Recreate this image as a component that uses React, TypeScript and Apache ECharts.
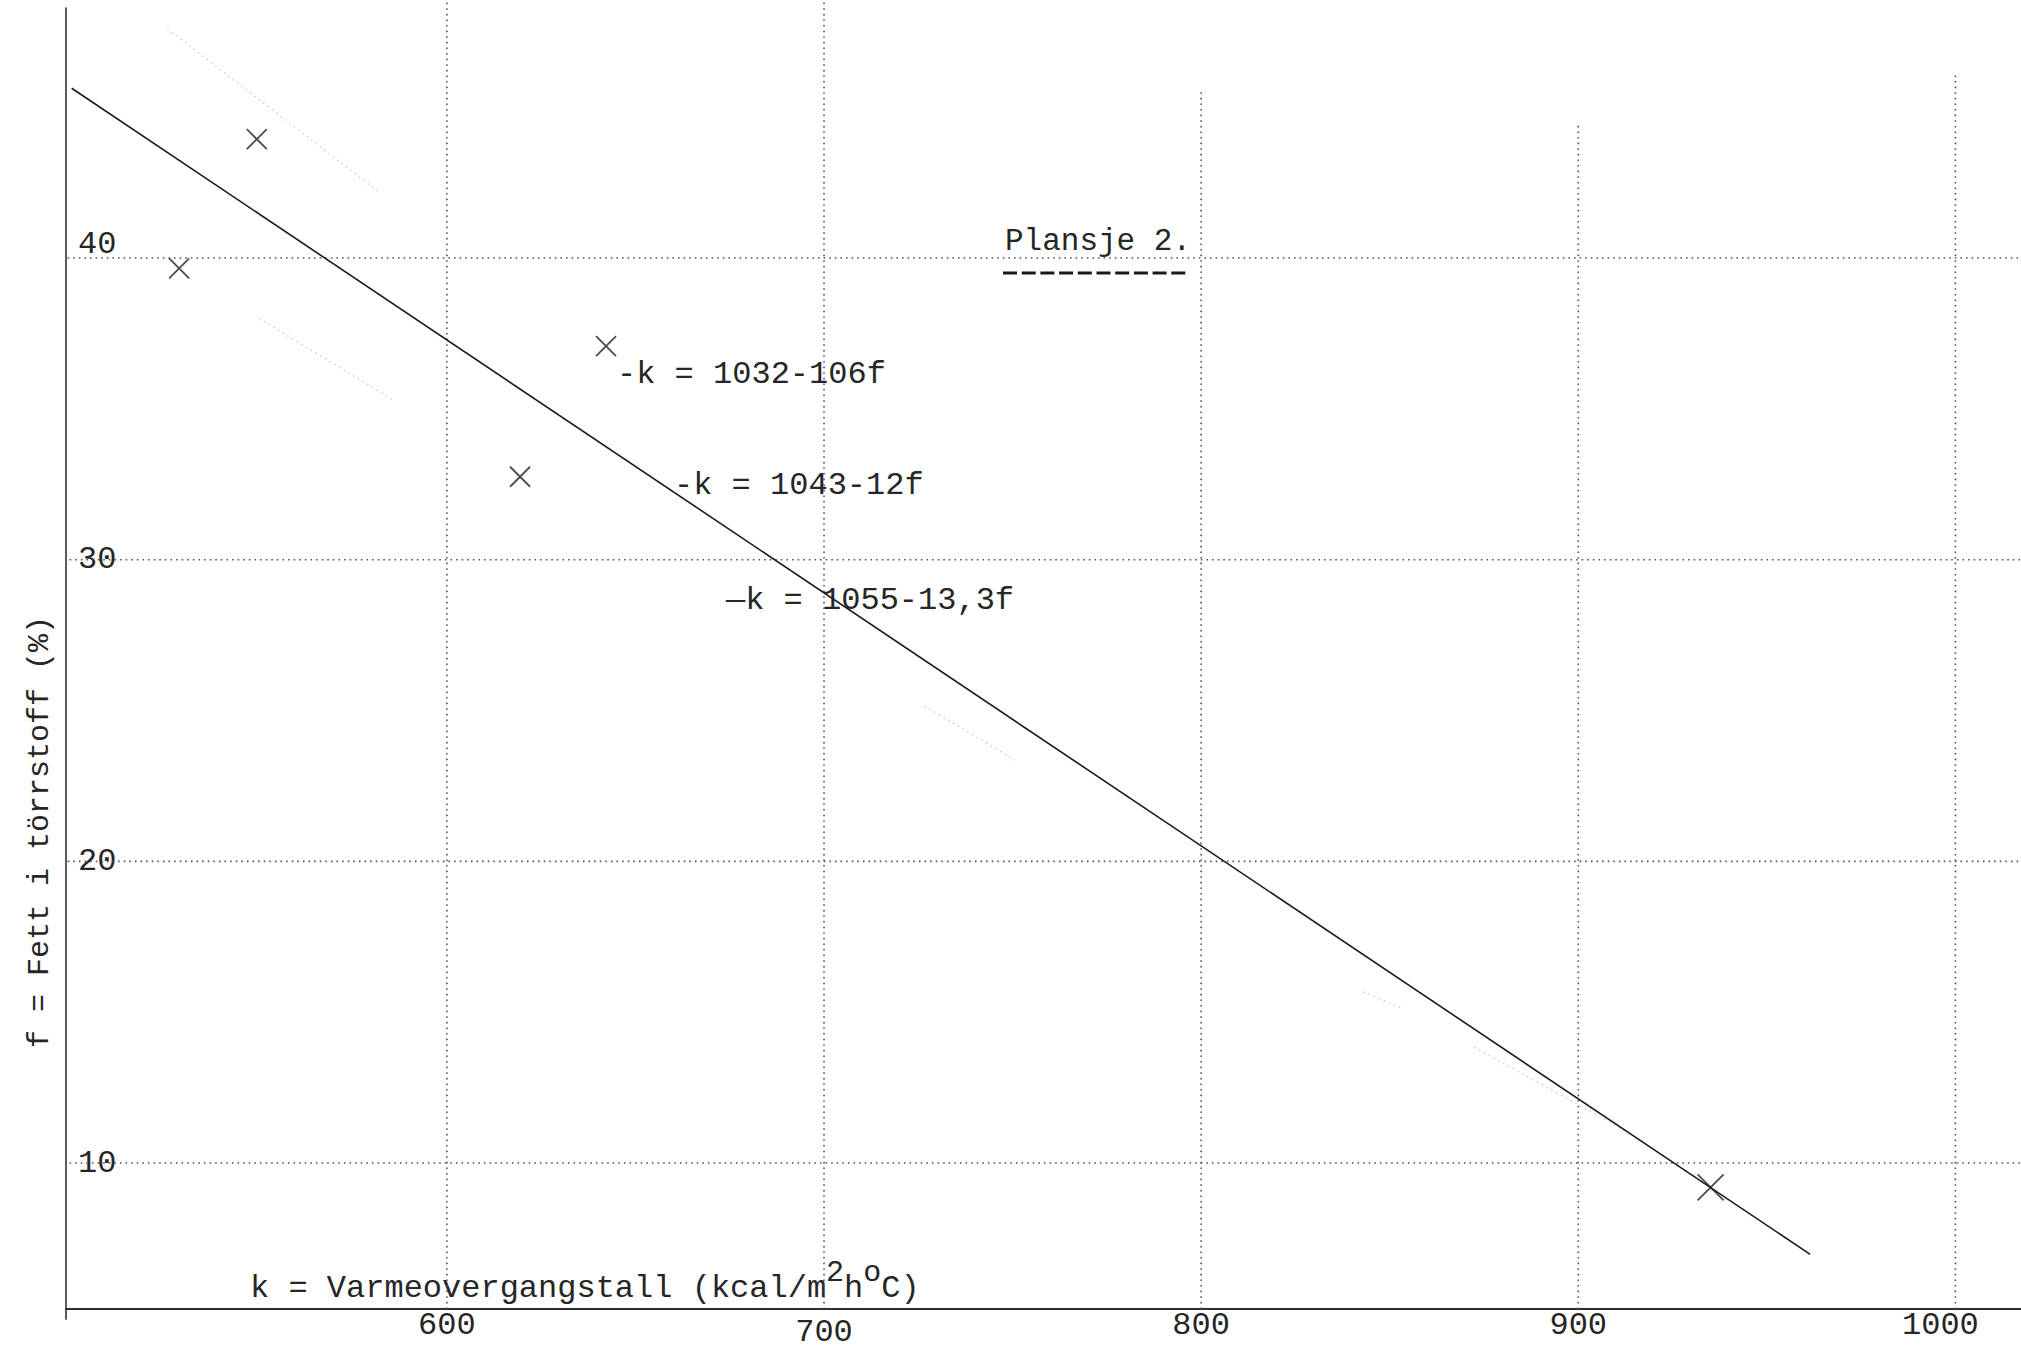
import React, { useEffect, useRef } from 'react';
import * as echarts from 'echarts';

// ---- axes ----
const X_MIN = 499;
const X_MAX = 1017.4;
const Y_MIN = 5.16;
const Y_MAX = 48.29;
const xTicks = [600, 700, 800, 900, 1000];
const yTicks = [10, 20, 30, 40];

// ---- measured points (k, f) ----
const kMeasured = [549.6, 529.0, 642.2, 619.4, 935.1];
const fMeasured = [43.94, 39.66, 37.08, 32.75, 9.19];

// ---- fitted line k = 1043 - 12 f (end points read from the sheet) ----
const fitK = [500.5, 961.5];
const fitF = [45.63, 6.97];

// ---- faint pencil traces of the other two lines ----
const faint1K = [525.9, 581.8];
const faint1F = [47.6, 42.2];
const faint2K = [550.2, 585.9];
const faint2F = [38.0, 35.28];
const faint3K = [726.7, 750.6];
const faint3F = [25.15, 23.36];
const faint4K = [843.0, 853.3];
const faint4F = [15.67, 15.13];
const faint5K = [872.4, 913.5];
const faint5F = [13.84, 11.0];

// ---- grid line extents as typed on the sheet ----
const vGridTop = [48.7, 48.7, 45.6, 44.5, 46.1];
const hGridStart = [494, 495, 497, 492];
const hGridEnd = 1025;

// ---- axis line overhangs ----
const xAxisOverhangK = [495.5, X_MIN];
const yAxisOverhangF = [Y_MIN, 4.8];

const FONT = '"Liberation Mono", "DejaVu Sans Mono", monospace';
const INK = '#262626';

const zip = (a: number[], b: number[]) => a.map((v, i) => [v, b[i]]);

export default function App() {
  const ref = useRef<HTMLDivElement>(null);

  useEffect(() => {
    if (!ref.current) return;
    const chart = echarts.init(ref.current, null, { renderer: 'svg' });

    const gridStyle = { color: '#555', width: 1.6, type: [1.6, 4] as any, cap: 'butt' as any };
    const faintStyle = { color: '#cdcdcd', width: 1.5, type: [1.5, 4] as any };
    const base = { type: 'line', silent: true, clip: false, symbol: 'none', animation: false };

    const series: any[] = [];
    xTicks.forEach((v, i) => {
      series.push({ ...base, data: [[v, Y_MIN], [v, vGridTop[i]]], lineStyle: gridStyle });
    });
    yTicks.forEach((v, i) => {
      series.push({ ...base, data: [[hGridStart[i], v], [hGridEnd, v]], lineStyle: gridStyle });
    });
    [
      zip(faint1K, faint1F), zip(faint2K, faint2F), zip(faint3K, faint3F),
      zip(faint4K, faint4F), zip(faint5K, faint5F),
    ].forEach((d) => {
      series.push({ ...base, data: d, lineStyle: faintStyle });
    });
    series.push({
      ...base,
      data: xAxisOverhangK.map((k) => [k, Y_MIN]),
      lineStyle: { color: '#2e2e2e', width: 2 },
    });
    series.push({
      ...base,
      data: yAxisOverhangF.map((f) => [X_MIN, f]),
      lineStyle: { color: '#333', width: 1.6 },
    });
    series.push({
      ...base,
      data: zip(fitK, fitF), lineStyle: { color: '#1a1a1a', width: 1.6 },
    });
    series.push({
      type: 'scatter', silent: true, clip: false, animation: false,
      symbol: 'path://M0 0L20 20M20 0L0 20',
      symbolSize: (_v: any, p: any) => (p.dataIndex === 4 ? 26 : 20),
      itemStyle: { color: 'rgba(0,0,0,0)', borderColor: '#1f1f1f', borderWidth: 1.8 },
      data: zip(kMeasured, fMeasured),
    });

    const labelBase = { fontFamily: FONT, fontSize: 32, color: INK };

    chart.setOption({
      animation: false,
      backgroundColor: '#ffffff',
      grid: { left: 66, right: 0, top: 8, bottom: 42, containLabel: false },
      xAxis: {
        type: 'value', min: X_MIN, max: X_MAX,
        axisLine: { show: true, onZero: false, lineStyle: { color: '#2e2e2e', width: 2 } },
        axisTick: { show: false },
        splitLine: { show: false },
        axisLabel: {
          ...labelBase,
          margin: 0,
          customValues: xTicks,
          formatter: (v: number) => (v === 700 ? '{lo|700}' : v === 1000 ? '{rt|1000}' : String(v)),
          rich: {
            lo: { ...labelBase, padding: [7, 0, 0, 0] },
            rt: { ...labelBase, padding: [0, 30, 0, 0] },
          },
        },
      },
      yAxis: {
        type: 'value', min: Y_MIN, max: Y_MAX,
        axisLine: { show: true, onZero: false, lineStyle: { color: '#333', width: 1.6 } },
        axisTick: { show: false },
        splitLine: { show: false },
        axisLabel: {
          ...labelBase,
          inside: true,
          margin: 12,
          customValues: yTicks,
          formatter: (v: number) => (v === 40 ? '{hi|40}' : String(v)),
          rich: { hi: { ...labelBase, padding: [0, 0, 28, 0] } },
        },
      },
      graphic: [
        {
          type: 'text', x: 40, y: 832, rotation: Math.PI / 2, silent: true,
          style: {
            text: 'f = Fett i törrstoff (%)', fontFamily: FONT, fontSize: 30, fill: INK,
            align: 'center', verticalAlign: 'middle',
          },
        },
        {
          type: 'text', x: 250, y: 1281, silent: true,
          style: {
            text: '{n|k = Varmeovergangstall (kcal/m}{s|2}{n|h}{s|o}{n|C)}',
            fontFamily: FONT, fontSize: 32, fill: INK, align: 'left', verticalAlign: 'middle',
            rich: {
              n: { fontFamily: FONT, fontSize: 32, fill: INK, lineHeight: 46, verticalAlign: 'bottom' },
              s: { fontFamily: FONT, fontSize: 30, fill: INK, lineHeight: 30, verticalAlign: 'top' },
            },
          },
        },
        {
          type: 'text', x: 1005, y: 241, silent: true,
          style: { text: 'Plansje 2.', fontFamily: FONT, fontSize: 31, fill: INK, align: 'left', verticalAlign: 'middle' },
        },
        {
          type: 'line', silent: true,
          shape: { x1: 1003, y1: 273, x2: 1190, y2: 273 },
          style: { stroke: '#1a1a1a', lineWidth: 3, lineDash: [14, 4.7] },
        },
        {
          type: 'text', x: 617, y: 374, silent: true,
          style: { text: '-k = 1032-106f', fontFamily: FONT, fontSize: 32, fill: INK, align: 'left', verticalAlign: 'middle' },
        },
        {
          type: 'text', x: 674, y: 485, silent: true,
          style: { text: '-k = 1043-12f', fontFamily: FONT, fontSize: 32, fill: INK, align: 'left', verticalAlign: 'middle' },
        },
        {
          type: 'text', x: 726, y: 600, silent: true,
          style: { text: '—k = 1055-13,3f', fontFamily: FONT, fontSize: 32, fill: INK, align: 'left', verticalAlign: 'middle' },
        },
      ],
      series,
    });

    return () => chart.dispose();
  }, []);

  return (
    <div
      ref={ref}
      style={{ position: 'absolute', left: 0, top: 0, width: 2021, height: 1351, background: '#fff' }}
    />
  );
}
